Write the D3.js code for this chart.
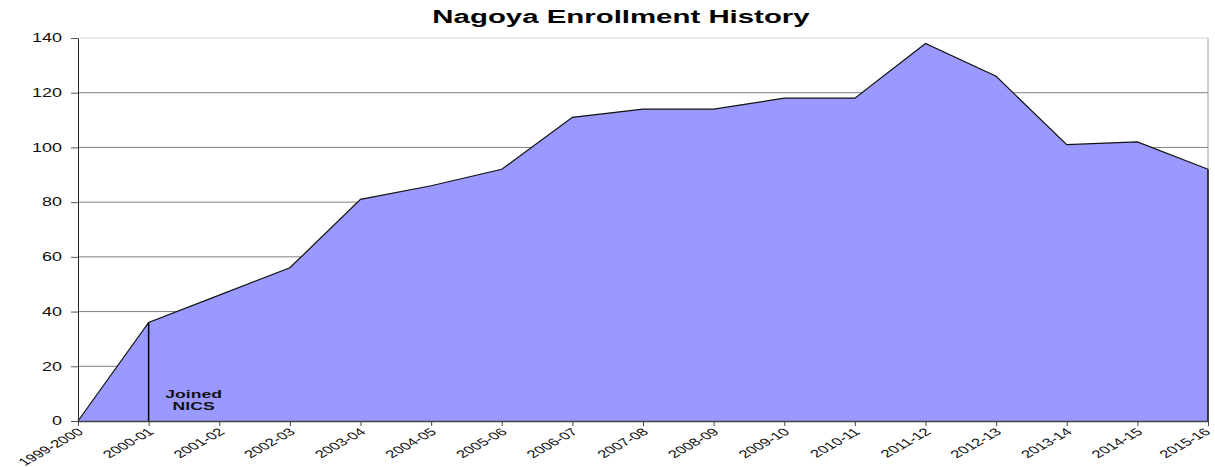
<!DOCTYPE html>
<html>
<head>
<meta charset="utf-8">
<script src="https://cdn.jsdelivr.net/npm/d3@7"></script>
<style>
body { margin: 0; background: #fff; }
text { font-family: "Liberation Sans", Arial, sans-serif; }
</style>
</head>
<body>
<div id="chart"></div>
<script>
var years = ["1999-2000", "2000-01", "2001-02", "2002-03", "2003-04", "2004-05", "2005-06",
  "2006-07", "2007-08", "2008-09", "2009-10", "2010-11", "2011-12", "2012-13", "2013-14",
  "2014-15", "2015-16"];
var enrollment = [0, 36, 46, 56, 81, 86, 92, 111, 114, 114, 118, 118, 138, 126, 101, 102, 92];
var yTicks = [0, 20, 40, 60, 80, 100, 120, 140];
var joinedYear = "2000-01";

// the original picture is stretched sideways, text gets the same treatment
var stretch = 1.6;

var margin = {top: 38, right: 7, bottom: 46, left: 78},
  width = 1215 - margin.left - margin.right,
  height = 467 - margin.top - margin.bottom;

var svg = d3.select("#chart").append("svg")
  .attr("width", 1215)
  .attr("height", 467);

var g = svg.append("g")
  .attr("transform", "translate(" + margin.left + "," + margin.top + ")");

var x = d3.scalePoint().domain(years).range([0, width]);
var y = d3.scaleLinear().domain([0, 140]).range([height, 0]);

var data = years.map(function(d, i) { return {year: d, value: enrollment[i]}; });

// gridlines
g.selectAll(".grid")
  .data(yTicks.filter(function(d) { return d > 0; }))
  .enter().append("line")
  .attr("x1", 0).attr("x2", width)
  .attr("y1", function(d) { return y(d); })
  .attr("y2", function(d) { return y(d); })
  .attr("stroke", function(d) { return d === 140 ? "#d8d8d8" : "#808080"; })
  .attr("stroke-width", 1);

// right border of plot
g.append("line")
  .attr("x1", width).attr("x2", width)
  .attr("y1", 0).attr("y2", height)
  .attr("stroke", "#a0a0a0");

// area
var area = d3.area()
  .x(function(d) { return x(d.year); })
  .y0(height)
  .y1(function(d) { return y(d.value); });

g.append("path")
  .datum(data)
  .attr("fill", "#9999ff")
  .attr("d", area);

var line = d3.line()
  .x(function(d) { return x(d.year); })
  .y(function(d) { return y(d.value); });

g.append("path")
  .datum(data)
  .attr("fill", "none")
  .attr("stroke", "#111")
  .attr("stroke-width", 1.2)
  .attr("d", line);

// right edge of area
var last = data[data.length - 1];
g.append("line")
  .attr("x1", x(last.year)).attr("x2", x(last.year))
  .attr("y1", y(last.value)).attr("y2", height)
  .attr("stroke", "#111").attr("stroke-width", 1.5);

// joined NICS marker
var joined = data[years.indexOf(joinedYear)];
g.append("line")
  .attr("x1", x(joined.year)).attr("x2", x(joined.year))
  .attr("y1", y(joined.value)).attr("y2", height)
  .attr("stroke", "#000").attr("stroke-width", 1.5);

var note = g.append("text")
  .attr("transform", "translate(" + (x(joined.year) + 45) + "," + (y(0) - 23) + ") scale(" + stretch + ",1)")
  .attr("text-anchor", "middle")
  .style("font-size", "11px")
  .style("font-weight", "bold")
  .style("fill", "#111");
note.append("tspan").attr("x", 0).attr("y", 0).text("Joined");
note.append("tspan").attr("x", 0).attr("y", 12).text("NICS");

// x axis
var xAxis = g.append("g")
  .attr("transform", "translate(0," + height + ")")
  .call(d3.axisBottom(x).tickSize(5).tickSizeOuter(0));
xAxis.select(".domain").attr("stroke", "#444").attr("stroke-width", 1.5);
xAxis.selectAll(".tick line").attr("stroke", "#444");
xAxis.selectAll("text")
  .style("text-anchor", "end")
  .style("font-size", "10.5px")
  .style("fill", "#111")
  .attr("x", 0).attr("y", 0)
  .attr("dy", "0.35em")
  .attr("transform", function(d, i) {
    var shift = i === years.length - 1 ? -1 : 2;
    return "translate(" + shift + ",9) scale(" + stretch + ",1) rotate(-42)";
  });

// y axis
var yAxis = g.append("g")
  .call(d3.axisLeft(y).tickValues(yTicks).tickSize(7).tickSizeOuter(0));
yAxis.select(".domain").attr("stroke", "#222");
yAxis.selectAll(".tick line").attr("stroke", "#555");
yAxis.selectAll("text")
  .style("font-size", "12px")
  .style("fill", "#111")
  .attr("x", 0)
  .attr("transform", "translate(-16,0) scale(1.5,1)");

// title
svg.append("text")
  .attr("transform", "translate(621,23) scale(1.68,1)")
  .attr("text-anchor", "middle")
  .style("font-size", "17.5px")
  .style("font-weight", "bold")
  .text("Nagoya Enrollment History");
</script>
</body>
</html>
